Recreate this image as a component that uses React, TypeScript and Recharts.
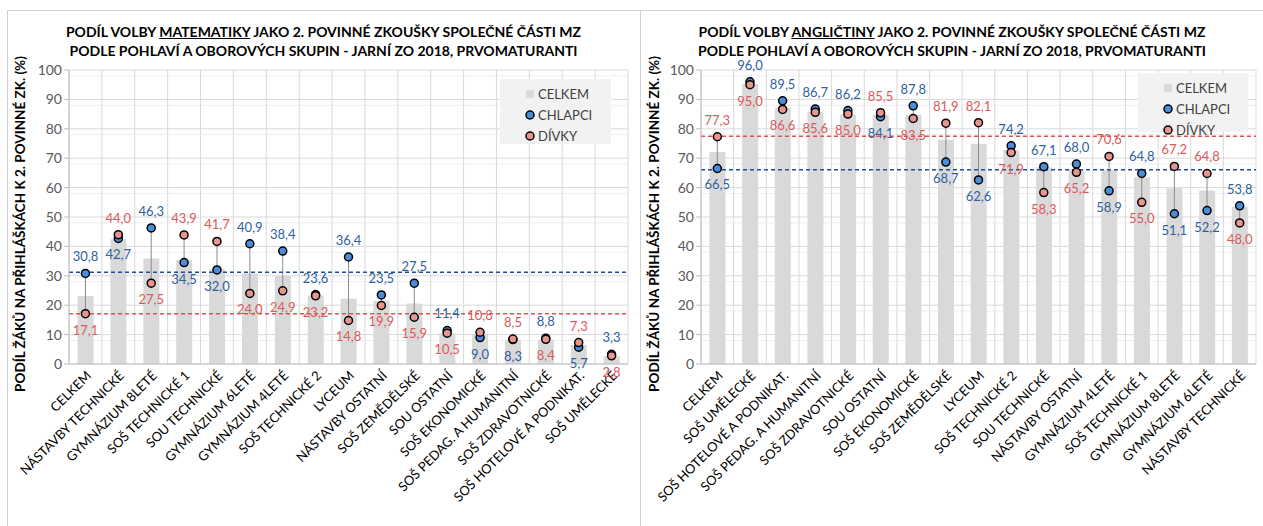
import React from "react"
import {
  ComposedChart,
  Bar,
  Line,
  XAxis,
  YAxis,
  CartesianGrid,
  ReferenceLine,
  ErrorBar,
  LabelList,
  Legend,
} from "recharts"

const FONT = "Lato, 'Open Sans', sans-serif"

// matematika
const mathCategories = [
  "CELKEM", "NÁSTAVBY TECHNICKÉ", "GYMNÁZIUM 8LETÉ", "SOŠ TECHNICKÉ 1", "SOU TECHNICKÉ",
  "GYMNÁZIUM 6LETÉ", "GYMNÁZIUM 4LETÉ", "SOŠ TECHNICKÉ 2", "LYCEUM", "NÁSTAVBY OSTATNÍ",
  "SOŠ ZEMĚDĚLSKÉ", "SOU OSTATNÍ", "SOŠ EKONOMICKÉ", "SOŠ PEDAG. A HUMANITNÍ",
  "SOŠ ZDRAVOTNICKÉ", "SOŠ HOTELOVÉ A PODNIKAT.", "SOŠ UMĚLECKÉ",
]
const mathCelkem = [23.1, 42.4, 35.9, 35.4, 32.2, 30.8, 29.9, 23.3, 22.2, 21.5, 20.6, 10.4, 10.2, 8.2, 8.2, 6.5, 2.7]
const mathChlapci = [30.8, 42.7, 46.3, 34.5, 32.0, 40.9, 38.4, 23.6, 36.4, 23.5, 27.5, 11.4, 9.0, 8.3, 8.8, 5.7, 3.3]
const mathDivky = [17.1, 44.0, 27.5, 43.9, 41.7, 24.0, 24.9, 23.2, 14.8, 19.9, 15.9, 10.5, 10.8, 8.5, 8.4, 7.3, 2.8]
const mathAvgChlapci = 31.2
const mathAvgDivky = 17.1

// anglictina
const engCategories = [
  "CELKEM", "SOŠ UMĚLECKÉ", "SOŠ HOTELOVÉ A PODNIKAT.", "SOŠ PEDAG. A HUMANITNÍ",
  "SOŠ ZDRAVOTNICKÉ", "SOU OSTATNÍ", "SOŠ EKONOMICKÉ", "SOŠ ZEMĚDĚLSKÉ", "LYCEUM",
  "SOŠ TECHNICKÉ 2", "SOU TECHNICKÉ", "NÁSTAVBY OSTATNÍ", "GYMNÁZIUM 4LETÉ",
  "SOŠ TECHNICKÉ 1", "GYMNÁZIUM 8LETÉ", "GYMNÁZIUM 6LETÉ", "NÁSTAVBY TECHNICKÉ",
]
const engCelkem = [72.1, 95.2, 87.2, 85.8, 84.9, 84.9, 84.7, 76.3, 74.8, 72.8, 66.9, 66.2, 66.0, 63.5, 59.8, 59.0, 53.5]
const engChlapci = [66.5, 96.0, 89.5, 86.7, 86.2, 84.1, 87.8, 68.7, 62.6, 74.2, 67.1, 68.0, 58.9, 64.8, 51.1, 52.2, 53.8]
const engDivky = [77.3, 95.0, 86.6, 85.6, 85.0, 85.5, 83.5, 81.9, 82.1, 71.9, 58.3, 65.2, 70.6, 55.0, 67.2, 64.8, 48.0]
const engAvgChlapci = 66.1
const engAvgDivky = 77.5

const yTicks = [0, 10, 20, 30, 40, 50, 60, 70, 80, 90, 100]
const yMinor = [2, 4, 6, 8, 12, 14, 16, 18, 22, 24, 26, 28, 32, 34, 36, 38, 42, 44, 46, 48, 52, 54, 56, 58, 62, 64, 66, 68, 72, 74, 76, 78, 82, 84, 86, 88, 92, 94, 96, 98]

const BLUE_DOT = "#4a8ddb"
const PINK_DOT = "#e6958f"
const BLUE_TXT = "#2f5f9f"
const RED_TXT = "#d95a5a"

const fmt = (v: number) => v.toFixed(1).replace(".", ",")

function XTick(props: any) {
  const { x, y, payload } = props
  return (
    <g transform={`translate(${x + 3},${y + 1})`}>
      <text
        transform="rotate(-45)"
        textAnchor="end"
        dominantBaseline="central"
        fontSize={13}
        fontFamily={FONT}
        fill="#000"
      >
        {payload.value}
      </text>
    </g>
  )
}

function makeLabel(own: number[], other: number[], color: string) {
  return (props: any) => {
    const { x, y, index, value } = props
    const above = own[index] >= other[index]
    return (
      <text
        x={x}
        y={above ? y - 17 : y + 16}
        textAnchor="middle"
        dominantBaseline="central"
        fontSize={13}
        fontFamily={FONT}
        fill={color}
      >
        {fmt(value)}
      </text>
    )
  }
}

function LegendBox({ rowGap }: { rowGap: number }) {
  const items = [
    { label: "CELKEM", kind: "bar" },
    { label: "CHLAPCI", kind: BLUE_DOT },
    { label: "DÍVKY", kind: PINK_DOT },
  ]
  return (
    <div style={{ background: "#f2f2f2", width: "100%", height: "100%", paddingTop: 4, boxSizing: "border-box" }}>
      {items.map((it) => (
        <div key={it.label} style={{ display: "flex", alignItems: "center", height: rowGap, paddingLeft: 25, fontFamily: FONT, fontSize: 13, color: "#404040" }}>
          <svg width={10} height={10} style={{ marginRight: 3 }}>
            {it.kind === "bar" ? (
              <rect x={1} y={1} width={8} height={8} fill="#d9d9d9" />
            ) : (
              <circle cx={5} cy={5} r={4} fill={it.kind} stroke="#000" strokeWidth={1.5} />
            )}
          </svg>
          {it.label}
        </div>
      ))}
    </div>
  )
}

type PanelProps = {
  left: number
  width: number
  marginLeft: number
  marginRight: number
  subject: string
  categories: string[]
  celkem: number[]
  chlapci: number[]
  divky: number[]
  avgChlapci: number
  avgDivky: number
  legend: { left: number; top: number; width: number; height: number; rowGap: number }
}

function Panel(p: PanelProps) {
  const rows = p.categories.map((name, i) => ({
    name,
    celkem: p.celkem[i],
    chlapci: p.chlapci[i],
    divky: p.divky[i],
    spread: p.chlapci[i] > p.divky[i] ? [0, p.chlapci[i] - p.divky[i]] : [p.divky[i] - p.chlapci[i], 0],
  }))
  const n = p.categories.length
  return (
    <div style={{ position: "absolute", left: p.left, top: 10, width: p.width, height: 516 }}>
      <div
        style={{
          position: "absolute",
          left: 0,
          top: 12,
          width: p.width,
          textAlign: "center",
          fontFamily: FONT,
          fontWeight: "bold",
          fontSize: 14,
          lineHeight: "19px",
          color: "#000",
        }}
      >
        PODÍL VOLBY <u>{p.subject}</u> JAKO 2. POVINNÉ ZKOUŠKY SPOLEČNÉ ČÁSTI MZ
        <br />
        PODLE POHLAVÍ A OBOROVÝCH SKUPIN - JARNÍ ZO 2018, PRVOMATURANTI
      </div>
      <ComposedChart
        width={p.width}
        height={516}
        data={rows}
        margin={{ top: 60, right: p.marginRight, bottom: 0, left: 0 }}
        barCategoryGap="26%"
        style={{ position: "absolute", left: 0, top: 0 }}
      >
        <CartesianGrid horizontalValues={yMinor} vertical={false} stroke="#efefef" />
        <CartesianGrid
          horizontalValues={yTicks}
          stroke="#d9d9d9"
          verticalCoordinatesGenerator={({ offset }: any) =>
            Array.from({ length: n + 1 }, (_, i) => offset.left + (i * offset.width) / n)
          }
        />
        <XAxis
          dataKey="name"
          interval={0}
          height={162}
          tick={<XTick />}
          tickLine={false}
          axisLine={{ stroke: "#bfbfbf" }}
        />
        <YAxis
          width={p.marginLeft}
          domain={[0, 100]}
          ticks={yTicks}
          tick={{ fontSize: 14, fill: "#595959", fontFamily: FONT }}
          tickSize={5}
          tickLine={{ stroke: "#bfbfbf" }}
          axisLine={{ stroke: "#bfbfbf" }}
          label={{
            content: ({ viewBox }: any) => (
              <text
                transform={`translate(13,${viewBox.y + viewBox.height / 2 + 7}) rotate(-90)`}
                textAnchor="middle"
                dominantBaseline="central"
                fontSize={13.5}
                fontWeight="bold"
                fontFamily={FONT}
                fill="#000"
              >
                PODÍL ŽÁKŮ NA PŘIHLÁŠKÁCH K 2. POVINNÉ ZK. (%)
              </text>
            ),
          }}
        />
        <Bar dataKey="celkem" fill="#d9d9d9" isAnimationActive={false} />
        <Line dataKey="divky" stroke="none" dot={false} activeDot={false} isAnimationActive={false} legendType="none">
          <ErrorBar dataKey="spread" direction="y" width={0} stroke="#8c8c8c" strokeWidth={1} />
        </Line>
        <ReferenceLine y={p.avgChlapci} stroke="#1f4e9a" strokeWidth={1.5} strokeDasharray="4 3" />
        <ReferenceLine y={p.avgDivky} stroke="#e35050" strokeWidth={1.5} strokeDasharray="4 3" />
        <Line
          dataKey="chlapci"
          stroke="none"
          dot={{ r: 4, fill: BLUE_DOT, stroke: "#000", strokeWidth: 1.5 }}
          activeDot={false}
          isAnimationActive={false}
        >
          <LabelList dataKey="chlapci" content={makeLabel(p.chlapci, p.divky, BLUE_TXT)} />
        </Line>
        <Line
          dataKey="divky"
          stroke="none"
          dot={{ r: 4, fill: PINK_DOT, stroke: "#000", strokeWidth: 1.5 }}
          activeDot={false}
          isAnimationActive={false}
        >
          <LabelList dataKey="divky" content={makeLabel(p.divky, p.chlapci, RED_TXT)} />
        </Line>
        <Legend
          layout="horizontal"
          verticalAlign="middle"
          align="center"
          content={() => <LegendBox rowGap={p.legend.rowGap} />}
          wrapperStyle={{
            position: "absolute",
            left: p.legend.left,
            top: p.legend.top,
            width: p.legend.width,
            height: p.legend.height,
          }}
        />
      </ComposedChart>
    </div>
  )
}

export default function App() {
  return (
    <div style={{ position: "absolute", left: 0, top: 0, width: 1263, height: 526, background: "#fff", overflow: "hidden" }}>
      <div style={{ position: "absolute", left: 7, top: 10, width: 1256, height: 1, background: "#d0d0d0" }} />
      <div style={{ position: "absolute", left: 7, top: 10, width: 1, height: 516, background: "#d0d0d0" }} />
      <div style={{ position: "absolute", left: 640, top: 10, width: 1, height: 516, background: "#d0d0d0" }} />
      <Panel
        left={7}
        width={633}
        marginLeft={62}
        marginRight={12}
        subject="MATEMATIKY"
        categories={mathCategories}
        celkem={mathCelkem}
        chlapci={mathChlapci}
        divky={mathDivky}
        avgChlapci={mathAvgChlapci}
        avgDivky={mathAvgDivky}
        legend={{ left: 493, top: 69, width: 111, height: 65, rowGap: 21 }}
      />
      <Panel
        left={641}
        width={622}
        marginLeft={60}
        marginRight={7}
        subject="ANGLIČTINY"
        categories={engCategories}
        celkem={engCelkem}
        chlapci={engChlapci}
        divky={engDivky}
        avgChlapci={engAvgChlapci}
        avgDivky={engAvgDivky}
        legend={{ left: 497, top: 63, width: 110, height: 59, rowGap: 21 }}
      />
    </div>
  )
}
